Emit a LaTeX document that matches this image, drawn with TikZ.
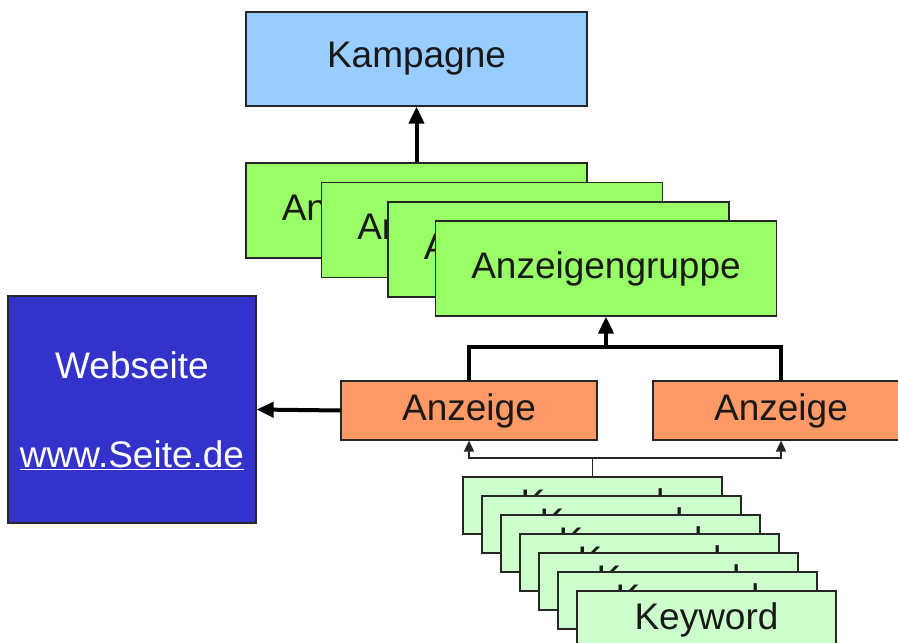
\documentclass[tikz,border=0pt]{standalone}
\usepackage{fontspec}
\setmainfont{Liberation Sans}
\usetikzlibrary{arrows.meta}
\definecolor{kblue}{HTML}{99CCFF}
\definecolor{ggreen}{HTML}{99FF66}
\definecolor{aorange}{HTML}{FF9966}
\definecolor{wblue}{HTML}{3333CC}
\definecolor{kwgreen}{HTML}{CCFFCC}
\definecolor{edge}{HTML}{262626}
\begin{document}
\begin{tikzpicture}[x=1pt,y=-1pt,
  box/.style={draw=edge, line width=1.2pt, rectangle, inner sep=0pt,
    font=\fontsize{37}{44}\selectfont, text=black!90},
  kampbox/.style={box, fill=kblue, minimum width=341pt, minimum height=94pt},
  grpbox/.style={box, fill=ggreen, minimum width=341pt, minimum height=95pt},
  adbox/.style={box, fill=aorange, minimum width=256pt, minimum height=59pt},
  webbox/.style={box, fill=wblue, minimum width=248pt, minimum height=227pt},
  webtext/.style={inner sep=0pt, anchor=base, text=white, font=\fontsize{37}{44}\selectfont},
  kwbox/.style={box, fill=kwgreen, minimum width=259pt, minimum height=57pt},
  thickarrow/.style={draw=black, line width=4pt, -{Triangle[length=17pt,width=15pt]}},
  thickline/.style={draw=black, line width=4pt},
  thinarrow/.style={draw=edge, line width=1.8pt, -{Triangle[length=11pt,width=10pt]}},
  thinline/.style={draw=edge, line width=1.8pt},
]
\useasboundingbox (0,0) rectangle (898,643);
\clip (0,0) rectangle (898,643);
\fill[white] (0,0) rectangle (898,643);

% Kampagne
\node[kampbox] (kamp) at (416.5,59) {Kampagne};

% Anzeigengruppen
\node[grpbox] (g1) at (416.5,210.5) {Anzeigengruppe};
\node[grpbox] (g2) at (492,230) {Anzeigengruppe};
\node[grpbox] (g3) at (558.5,249.5) {Anzeigengruppe};
\node[grpbox] (g4) at (606,268.5) {Anzeigengruppe};
\draw[thickarrow] (g1.north) -- (kamp.south);

% Webseite
\node[webbox] (web) at (132,409.5) {};
\node[webtext] (webt) at (132,378) {Webseite};
\node[webtext] (webu) at (132,467) {\underline{www.Seite.de}};

% Anzeigen
\node[adbox] (ad1) at (469,410.5) {Anzeige};
\node[adbox] (ad2) at (781,410.5) {Anzeige};

\coordinate (j) at (606,347);
\draw[thickline] (ad1.north) |- (j) -| (ad2.north);
\draw[thickarrow] (j) -- (g4.south);
\draw[thickarrow] (ad1.west) -- (web.east);

% Keywords
\foreach \i in {0,...,6} {
  \node[kwbox] (kw\i) at ({592.5+19*\i},{505.5+19*\i}) {Keyword};
}
\coordinate (k) at (592.5,458);
\draw[thinline] (kw0.north) -- (k);
\draw[thinarrow] (k) -| (ad1.south);
\draw[thinarrow] (k) -| (ad2.south);
\end{tikzpicture}
\end{document}
